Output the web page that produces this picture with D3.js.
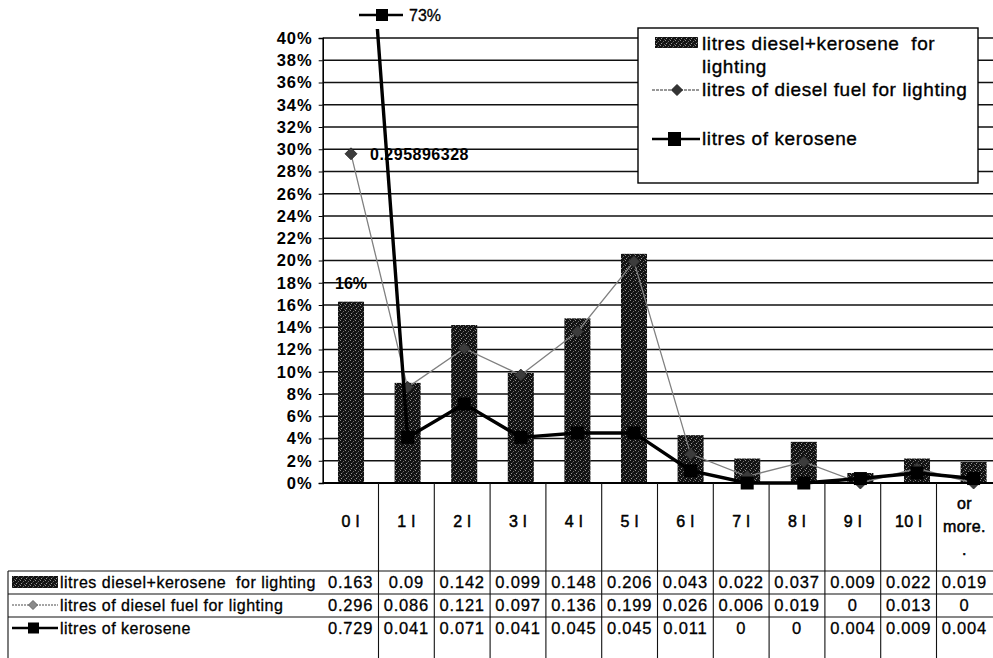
<!DOCTYPE html>
<html><head><meta charset="utf-8">
<script src="https://cdn.jsdelivr.net/npm/d3@7"></script>
<style>
html,body{margin:0;padding:0;background:#fff;}
svg{display:block;font-family:Arial,"Liberation Sans",sans-serif;}
</style></head><body>
<svg id="chart" width="993" height="658"></svg>
<script>
// ---- data ----
const categories = ["0 l","1 l","2 l","3 l","4 l","5 l","6 l","7 l","8 l","9 l","10 l","or\nmore.\n."];
const seriesNames = ["litres diesel+kerosene  for lighting","litres of diesel fuel for lighting","litres of kerosene"];
const combined = [0.163,0.09,0.142,0.099,0.148,0.206,0.043,0.022,0.037,0.009,0.022,0.019];
const diesel   = [0.295896328,0.086,0.121,0.097,0.136,0.199,0.026,0.006,0.019,0,0.013,0];
const kerosene = [0.729,0.041,0.071,0.041,0.045,0.045,0.011,0,0,0.004,0.009,0.004];
const yTicks = d3.range(0, 21).map(i => i * 0.02);

// ---- layout ----
const X0 = 322.7, Y0 = 483, YTOP = 38;
const svg = d3.select("#chart");
const pct = d3.format(".0%");
const cell = d3.format(".3~f");

const x = d3.scaleBand().domain(categories).range([X0, X0 + 12 * 56.6]);
const xt = d3.scaleBand().domain(categories).range([X0, X0 + 12 * 55.8]);
const y = d3.scaleLinear().domain([0, 0.4]).range([Y0, YTOP]);
const cx = (d, i) => x(categories[i]) + x.bandwidth() / 2;
const barW = x.bandwidth() * 0.46;

// dark speckled fill used by the bars and their keys
const defs = svg.append("defs");
const pat = defs.append("pattern").attr("id", "speckle")
  .attr("width", 5).attr("height", 5).attr("patternUnits", "userSpaceOnUse");
pat.append("rect").attr("width", 5).attr("height", 5).attr("fill", "#121212");
[[0,0,"#8c8c8c"],[3,1,"#6a6a6a"],[1,3,"#9a9a9a"],[4,4,"#555"],[2,2,"#3a3a3a"]].forEach(([px,py,c]) =>
  pat.append("rect").attr("x", px).attr("y", py).attr("width", 1).attr("height", 1).attr("fill", c));
defs.append("clipPath").attr("id", "plotclip")
  .append("rect").attr("x", X0).attr("y", 29).attr("width", 700).attr("height", 480);

// ---- gridlines ----
svg.append("g").selectAll("line").data(yTicks.filter(d => d > 0)).join("line")
  .attr("x1", X0).attr("x2", 993).attr("y1", d => y(d)).attr("y2", d => y(d))
  .attr("stroke", "#111").attr("stroke-width", 1.5);

// ---- y axis ----
const yAxis = svg.append("g").attr("transform", `translate(${X0},0)`)
  .call(d3.axisLeft(y).tickValues(yTicks).tickFormat(pct).tickSize(4).tickPadding(6));
yAxis.select(".domain").attr("stroke", "#000").attr("stroke-width", 1.6);
yAxis.selectAll(".tick line").attr("stroke", "#000");
yAxis.selectAll("text").attr("font-size", 16.5).attr("font-weight", "bold")
  .attr("letter-spacing", 1).attr("fill", "#000")
  .attr("font-family", "Arial, 'Liberation Sans', sans-serif");

// ---- bars ----
svg.append("g").selectAll("rect").data(combined).join("rect")
  .attr("x", (d, i) => cx(d, i) - barW / 2).attr("width", barW)
  .attr("y", d => y(d)).attr("height", d => Y0 - y(d))
  .attr("fill", "url(#speckle)");

// ---- lines ----
const diamond = s => `M0,${-s}L${s},0L0,${s}L${-s},0Z`;
const lineGen = d3.line().x((d, i) => cx(d, i)).y(d => y(d));
const plot = svg.append("g").attr("clip-path", "url(#plotclip)");

plot.append("path").datum(diesel).attr("d", lineGen)
  .attr("fill", "none").attr("stroke", "#808080").attr("stroke-width", 1.3);
plot.append("g").selectAll("path").data(diesel).join("path")
  .attr("transform", (d, i) => `translate(${cx(d, i)},${y(d)})`)
  .attr("d", diamond(6)).attr("fill", "#3c3c3c").attr("stroke", "#222").attr("stroke-width", 0.8);

plot.append("path").datum(kerosene).attr("d", lineGen)
  .attr("fill", "none").attr("stroke", "#000").attr("stroke-width", 3.4);
plot.append("g").selectAll("rect").data(kerosene).join("rect")
  .attr("x", (d, i) => cx(d, i) - 6.5).attr("y", d => y(d) - 6.5)
  .attr("width", 13).attr("height", 13).attr("fill", "#000");

svg.append("line").attr("x1", X0).attr("x2", 993).attr("y1", Y0).attr("y2", Y0)
  .attr("stroke", "#000").attr("stroke-width", 1.8);

// ---- data labels ----
const c0 = cx(0, 0);
svg.append("text").attr("x", c0 + 19).attr("y", y(diesel[0]) + 6)
  .attr("font-size", 16).attr("font-weight", "bold").attr("letter-spacing", 0.5)
  .text(String(diesel[0]));
svg.append("text").attr("x", c0).attr("y", y(combined[0]) - 13).attr("text-anchor", "middle")
  .attr("font-size", 16).attr("font-weight", "bold").text(pct(combined[0]));
const kl = svg.append("g");
kl.append("line").attr("x1", c0 + 8).attr("x2", c0 + 52).attr("y1", 15).attr("y2", 15)
  .attr("stroke", "#000").attr("stroke-width", 2.6);
kl.append("rect").attr("x", c0 + 25).attr("y", 9).attr("width", 12).attr("height", 12).attr("fill", "#000");
kl.append("text").attr("x", c0 + 58).attr("y", 21).attr("font-size", 16)
  .attr("stroke", "#000").attr("stroke-width", 0.3).text(pct(kerosene[0]));

// ---- legend ----
const lg = svg.append("g");
lg.append("rect").attr("x", 638).attr("y", 28).attr("width", 340).attr("height", 155)
  .attr("fill", "#fff").attr("stroke", "#000").attr("stroke-width", 1.4);
lg.append("rect").attr("x", 655).attr("y", 37).attr("width", 43).attr("height", 11).attr("fill", "url(#speckle)");
lg.append("line").attr("x1", 652).attr("x2", 700).attr("y1", 90).attr("y2", 90)
  .attr("stroke", "#777").attr("stroke-width", 1.4).attr("stroke-dasharray", "3,1");
lg.append("path").attr("transform", "translate(677,90)").attr("d", diamond(5.5))
  .attr("fill", "#333").attr("stroke", "#222");
lg.append("line").attr("x1", 652).attr("x2", 700).attr("y1", 139).attr("y2", 139)
  .attr("stroke", "#000").attr("stroke-width", 2.6);
lg.append("rect").attr("x", 668).attr("y", 132).attr("width", 13).attr("height", 14).attr("fill", "#000");
const lgText = [[seriesNames[0].replace(" for lighting", " for"), 50], ["lighting", 73], [seriesNames[1], 96], [seriesNames[2], 145]];
lg.selectAll("text").data(lgText).join("text")
  .attr("x", 702).attr("y", d => d[1]).attr("font-size", 19).attr("letter-spacing", 0.6)
  .attr("stroke", "#000").attr("stroke-width", 0.35)
  .attr("xml:space", "preserve").style("white-space", "pre").text(d => d[0]);

// ---- data table ----
const tb = svg.append("g");
const rowTop = [571, 594, 617];
const rowMid = [582, 605, 628];
categories.forEach((c, i) => {
  if (i > 0) tb.append("line").attr("x1", xt(c)).attr("x2", xt(c)).attr("y1", Y0).attr("y2", 658)
    .attr("stroke", "#111").attr("stroke-width", 1.1);
  const lines = c.split("\n");
  const mid = lines.length > 1 ? 526 : 521;
  lines.forEach((t, k) => {
    tb.append("text").attr("x", xt(c) + xt.bandwidth() / 2)
      .attr("y", mid + (k - (lines.length - 1) / 2) * 23 + 6)
      .attr("text-anchor", "middle").attr("font-size", 16)
      .attr("stroke", "#000").attr("stroke-width", 0.5)
      .attr("letter-spacing", 0.4).text(t);
  });
});
tb.append("line").attr("x1", 8).attr("x2", 8).attr("y1", 571).attr("y2", 658)
  .attr("stroke", "#111").attr("stroke-width", 1.1);
rowTop.forEach(v => tb.append("line").attr("x1", 8).attr("x2", 993).attr("y1", v).attr("y2", v)
  .attr("stroke", "#111").attr("stroke-width", 1.1));

// row keys
tb.append("rect").attr("x", 12).attr("y", rowMid[0] - 6).attr("width", 46).attr("height", 12).attr("fill", "url(#speckle)");
tb.append("line").attr("x1", 12).attr("x2", 58).attr("y1", rowMid[1]).attr("y2", rowMid[1])
  .attr("stroke", "#888").attr("stroke-width", 1.3).attr("stroke-dasharray", "2,1");
tb.append("path").attr("transform", `translate(33,${rowMid[1]})`).attr("d", diamond(4.5))
  .attr("fill", "#8a8a8a").attr("stroke", "#666");
tb.append("line").attr("x1", 12).attr("x2", 58).attr("y1", rowMid[2]).attr("y2", rowMid[2])
  .attr("stroke", "#000").attr("stroke-width", 2.4);
tb.append("rect").attr("x", 28).attr("y", rowMid[2] - 5.5).attr("width", 11).attr("height", 11).attr("fill", "#000");

seriesNames.forEach((n, r) => {
  tb.append("text").attr("x", 60).attr("y", rowMid[r] + 6).attr("font-size", 16)
    .attr("stroke", "#000").attr("stroke-width", 0.3)
    .attr("letter-spacing", 0.5).attr("xml:space", "preserve").style("white-space", "pre").text(n);
});
[combined, diesel, kerosene].forEach((arr, r) => {
  arr.forEach((v, i) => {
    tb.append("text").attr("x", xt(categories[i]) + xt.bandwidth() / 2).attr("y", rowMid[r] + 6)
      .attr("text-anchor", "middle").attr("font-size", 16.5).attr("letter-spacing", 0.8)
      .attr("stroke", "#000").attr("stroke-width", 0.3).text(cell(v));
  });
});
</script>
</body></html>
